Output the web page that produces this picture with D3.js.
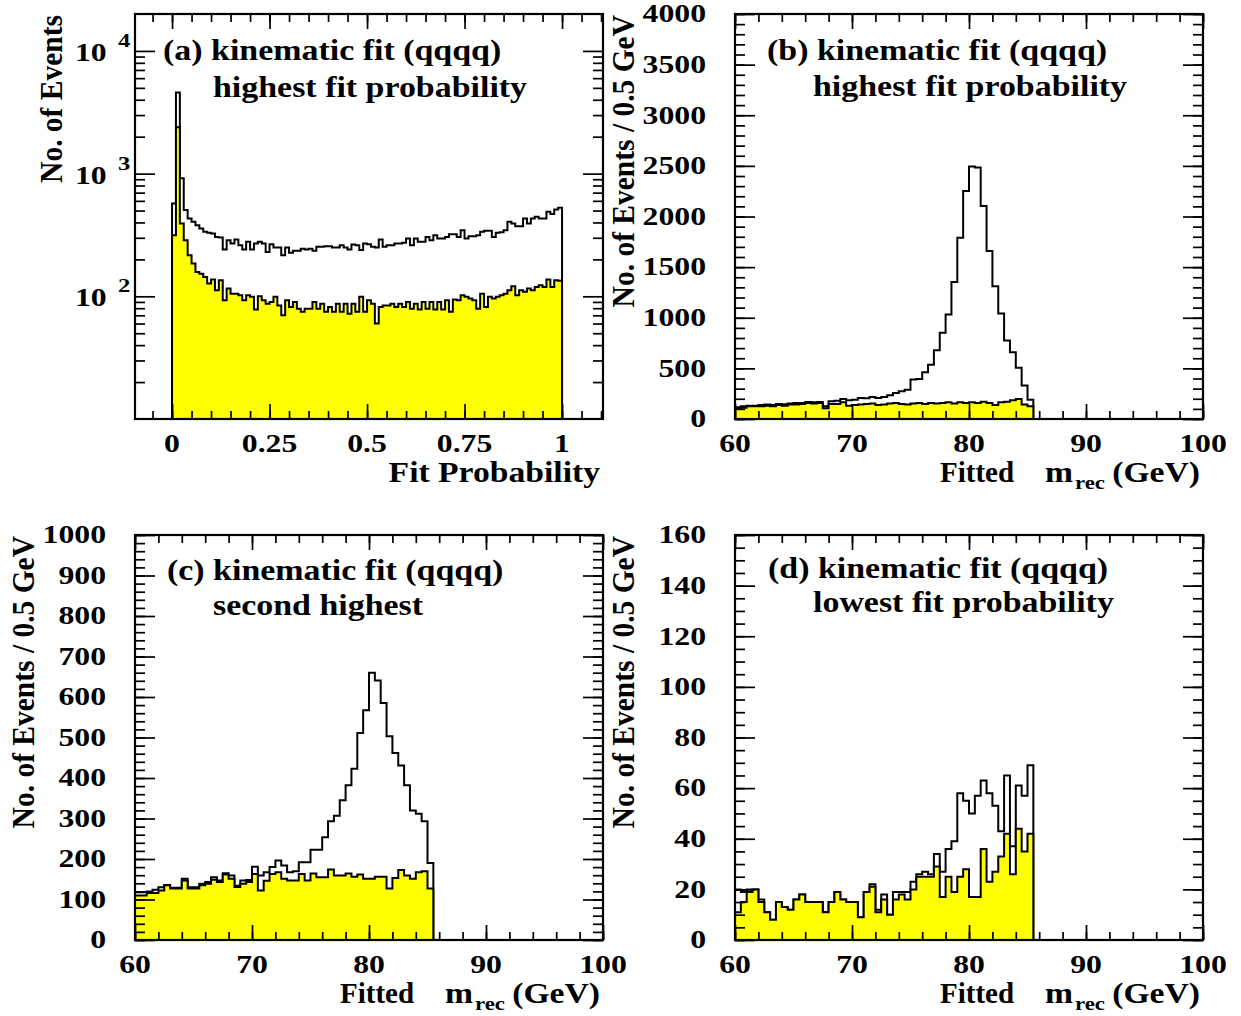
<!DOCTYPE html>
<html>
<head>
<meta charset="utf-8">
<script src="https://cdn.jsdelivr.net/npm/d3@7"></script>
<style>
  html, body { margin: 0; padding: 0; background: #fff; }
  text { font-family: "Liberation Serif", "Times New Roman", serif; font-weight: bold; fill: #000; }
</style>
</head>
<body>
<svg id="chart" width="1241" height="1016"></svg>
<script>
// ---------------- DATA ----------------
// (a) fit probability, 100 bins from 0 to 1
const probTotal = [572,4592,916,505,431,405,380,357,336,329,
  325,305,302,241,287,270,290,261,241,278,
  241,270,278,270,230,266,250,250,216,250,
  226,235,235,244,241,244,235,253,253,256,
  256,250,250,261,250,241,264,261,238,270,
  266,253,250,290,253,261,261,270,270,273,
  296,261,296,278,278,305,287,315,296,296,
  305,321,321,305,346,296,308,308,315,336,
  342,342,305,329,333,346,405,393,373,373,
  431,393,431,445,431,431,489,468,511,527];
const probBkg = [315,2391,393,287,216,185,158,153,144,127,
  137,112,135,93,116,105,105,102,93,102,
  99,78,100,93,87,90,99,84,70,93,
  82,90,79,75,79,79,90,79,87,75,
  82,75,87,75,87,72,87,75,99,75,
  93,87,60,82,84,84,87,82,87,82,
  90,79,87,78,90,79,90,78,90,78,
  93,75,94,93,102,99,96,93,79,105,
  82,99,96,99,102,105,112,121,102,112,
  109,116,112,119,123,119,137,119,135,134];

// (b) fitted mass, highest fit probability, 0.5 GeV bins from 60
const massTotalB = [115,125,132,132,138,142,138,148,145,152,
  158,158,168,165,168,125,175,181,198,185,
  191,208,204,218,208,218,234,257,274,290,
  389,396,462,537,679,851,1032,1352,1791,2252,
  2493,2483,2104,1659,1312,1042,775,660,505,330,191];
const massBkgB = [100,110,125,125,125,132,125,138,132,142,
  142,148,158,152,158,105,148,148,165,132,
  138,142,148,152,138,142,152,158,148,142,
  152,158,148,158,152,158,165,152,165,158,
  165,158,171,158,138,165,171,185,198,142,125];

// (c) second highest
const massTotalC = [118,118,120,124,130,136,129,129,151,130,
  130,139,143,155,147,165,159,134,147,148,
  181,159,167,180,196,184,167,170,192,192,
  223,223,254,293,307,345,382,423,511,567,
  660,641,585,503,462,431,382,320,312,293,190];
const massBkgC = [110,110,116,116,122,135,127,127,147,127,
  127,135,139,149,143,162,151,131,139,143,
  163,122,146,163,167,151,147,147,163,147,
  164,155,155,174,159,159,164,156,162,151,
  151,156,156,127,153,173,159,151,167,170,127];

// (d) lowest fit probability
const massTotalD = [20,19,20,20,16,11,8,15,13,12,
  16,18,15,15,15,11,15,19,16,15,
  15,9,19,22,12,18,10,19,19,19,
  23,26,27,26,34,27,36,39,58,55,
  50,57,63,58,53,43,65,37,61,57,69];
const massBkgD = [11,15,19,20,15,11,8,15,13,12,
  16,18,15,15,15,11,15,19,16,15,
  15,9,19,21,11,16,10,16,18,16,
  20,25,25,25,29,17,25,19,25,28,
  17,17,36,23,27,33,42,26,44,35,42];

// tick labels
const probTicks = [0, 0.25, 0.5, 0.75, 1];
const probTickLabels = ["0", "0.25", "0.5", "0.75", "1"];
const massTicks = [60, 70, 80, 90, 100];
const massTickLabels = ["60", "70", "80", "90", "100"];
const logTicks = [100, 1000, 10000];
const logTickExponents = ["2", "3", "4"];
const yTicksB = [0,500,1000,1500,2000,2500,3000,3500,4000];
const yTicksC = [0,100,200,300,400,500,600,700,800,900,1000];
const yTicksD = [0,20,40,60,80,100,120,140,160];

const titles = {
  a: ["(a) kinematic fit (qqqq)", "highest fit probability"],
  b: ["(b) kinematic fit (qqqq)", "highest fit probability"],
  c: ["(c) kinematic fit (qqqq)", "second highest"],
  d: ["(d) kinematic fit (qqqq)", "lowest fit probability"]
};

// ---------------- DRAWING ----------------
const svg = d3.select("#chart");
svg.append("rect").attr("width", 1241).attr("height", 1016).attr("fill", "#fff");

const probEdges = d3.range(101).map(i => i / 100);
const massEdges = d3.range(52).map(i => 60 + i * 0.5);

const TICK_SX = 1.27, TICK_FS = 25;

function sText(g, x, y, str, opts) {
  const o = Object.assign({fs: TICK_FS, sx: TICK_SX, anchor: "start"}, opts || {});
  return g.append("text")
    .attr("transform", `translate(${x},${y}) scale(${o.sx},1)`)
    .attr("text-anchor", o.anchor)
    .attr("font-size", o.fs)
    .text(str);
}

function stepPath(edges, vals, x, y, base) {
  const p = d3.path();
  p.moveTo(x(edges[0]), y(base));
  vals.forEach((v, i) => {
    p.lineTo(x(edges[i]), y(v));
    p.lineTo(x(edges[i + 1]), y(v));
  });
  p.lineTo(x(edges[edges.length - 1]), y(base));
  p.closePath();
  return p.toString();
}

function drawTicks(g, x, y, L, R, T, B, xMajor, xMinor, yMajor, yMinor) {
  const tg = g.append("g");
  const sets = [
    [d3.axisBottom(x).tickValues(xMinor).tickSize(-8), `translate(0,${B})`],
    [d3.axisBottom(x).tickValues(xMajor).tickSize(-15), `translate(0,${B})`],
    [d3.axisTop(x).tickValues(xMinor).tickSize(-8), `translate(0,${T})`],
    [d3.axisTop(x).tickValues(xMajor).tickSize(-15), `translate(0,${T})`],
    [d3.axisLeft(y).tickValues(yMinor).tickSize(-10), `translate(${L},0)`],
    [d3.axisLeft(y).tickValues(yMajor).tickSize(-20), `translate(${L},0)`],
    [d3.axisRight(y).tickValues(yMinor).tickSize(-10), `translate(${R},0)`],
    [d3.axisRight(y).tickValues(yMajor).tickSize(-20), `translate(${R},0)`]
  ];
  sets.forEach(([ax, tr]) => {
    const a = tg.append("g").attr("transform", tr).call(ax.tickFormat(""));
    a.select(".domain").remove();
    a.selectAll("line").attr("stroke", "#000").attr("stroke-width", 1.7);
  });
}

function panel(cfg) {
  const {L, R, T, B} = cfg;
  const g = svg.append("g");
  const x = d3.scaleLinear().domain(cfg.xDomain).range([L, R]);
  const y = cfg.log ? d3.scaleLog().domain(cfg.yDomain).range([B, T])
                    : d3.scaleLinear().domain(cfg.yDomain).range([B, T]);
  const base = cfg.yDomain[0];

  g.append("path").attr("d", stepPath(cfg.edges, cfg.total, x, y, base))
    .attr("fill", "#fff").attr("stroke", "#000").attr("stroke-width", 2)
    .attr("stroke-linejoin", "miter");
  g.append("path").attr("d", stepPath(cfg.edges, cfg.bkg, x, y, base))
    .attr("fill", "#ffff00").attr("stroke", "#000").attr("stroke-width", 2)
    .attr("stroke-linejoin", "miter");

  drawTicks(g, x, y, L, R, T, B, cfg.xMajor, cfg.xMinor, cfg.yMajor, cfg.yMinor);

  g.append("rect").attr("x", L).attr("y", T).attr("width", R - L).attr("height", B - T)
    .attr("fill", "none").attr("stroke", "#000").attr("stroke-width", 2.2);

  // x tick labels
  cfg.xTicks.forEach((v, i) => sText(g, x(v), B + 33, cfg.xTickLabels[i], {anchor: "middle"}));

  // y tick labels
  if (cfg.log) {
    cfg.yTicks.forEach((v, i) => {
      sText(g, L - 60, y(v) + 10, "10", {anchor: "start"});
      sText(g, L - 17, y(v) - 4, cfg.yTickExp[i], {fs: 19, sx: 1.3, anchor: "start"});
    });
  } else {
    cfg.yTicks.forEach(v => sText(g, L - 29, y(v) + 8.3, String(v), {anchor: "end"}));
  }

  // titles
  const t = titles[cfg.id];
  sText(g, cfg.t1x, T + cfg.t1dy, t[0], {fs: 29, sx: 1.17});
  sText(g, cfg.t2x, T + cfg.t2dy, t[1], {fs: 29, sx: 1.17});

  // y axis title
  g.append("text")
    .attr("transform", `translate(${cfg.yTitleX},${T + 1}) rotate(-90) scale(1,1.08)`)
    .attr("text-anchor", "end").attr("font-size", 29.5)
    .text(cfg.yTitle);

  // x axis title
  if (cfg.id === "a") {
    sText(g, R - 3, B + 63, "Fit Probability", {fs: 29, sx: 1.16, anchor: "end"});
  } else {
    sText(g, L + 205, B + 63, "Fitted", {fs: 29, sx: 1.0, anchor: "start"});
    sText(g, L + 310, B + 63, "m", {fs: 29, sx: 1.16, anchor: "start"});
    sText(g, L + 340, B + 70, "rec", {fs: 19, sx: 1.2, anchor: "start"});
    sText(g, R - 3, B + 63, "(GeV)", {fs: 29, sx: 1.16, anchor: "end"});
  }
}

const massXMinor = d3.range(60, 101, 2);
const probXMinor = d3.range(-1, 23).map(i => i * 0.05);
const logMinor = [];
[10, 100, 1000].forEach(d => { for (let k = 2; k <= 9; k++) logMinor.push(k * d); });

panel({id: "a", L: 135, R: 603, T: 14, B: 419, xDomain: [-0.095, 1.105], log: true, yDomain: [10, 20000],
  edges: probEdges, total: probTotal, bkg: probBkg,
  xMajor: probTicks, xMinor: probXMinor, yMajor: logTicks, yMinor: logMinor,
  xTicks: probTicks, xTickLabels: probTickLabels, yTicks: logTicks, yTickExp: logTickExponents,
  t1x: 163, t1dy: 46, t2x: 213, t2dy: 83, yTitle: "No. of Events", yTitleX: 62});

panel({id: "b", L: 735, R: 1203, T: 14, B: 419, xDomain: [60, 100], log: false, yDomain: [0, 4000],
  edges: massEdges, total: massTotalB, bkg: massBkgB,
  xMajor: massTicks, xMinor: massXMinor, yMajor: yTicksB, yMinor: d3.range(0, 4001, 100),
  xTicks: massTicks, xTickLabels: massTickLabels, yTicks: yTicksB,
  t1x: 767, t1dy: 46, t2x: 813, t2dy: 82, yTitle: "No. of Events / 0.5 GeV", yTitleX: 634});

panel({id: "c", L: 135, R: 603, T: 535, B: 940, xDomain: [60, 100], log: false, yDomain: [0, 1000],
  edges: massEdges, total: massTotalC, bkg: massBkgC,
  xMajor: massTicks, xMinor: massXMinor, yMajor: yTicksC, yMinor: d3.range(0, 1001, 20),
  xTicks: massTicks, xTickLabels: massTickLabels, yTicks: yTicksC,
  t1x: 167, t1dy: 45, t2x: 213, t2dy: 80, yTitle: "No. of Events / 0.5 GeV", yTitleX: 34});

panel({id: "d", L: 735, R: 1203, T: 535, B: 940, xDomain: [60, 100], log: false, yDomain: [0, 160],
  edges: massEdges, total: massTotalD, bkg: massBkgD,
  xMajor: massTicks, xMinor: massXMinor, yMajor: yTicksD, yMinor: d3.range(0, 161, 5),
  xTicks: massTicks, xTickLabels: massTickLabels, yTicks: yTicksD,
  t1x: 768, t1dy: 43, t2x: 813, t2dy: 77, yTitle: "No. of Events / 0.5 GeV", yTitleX: 634});
</script>
</body>
</html>
